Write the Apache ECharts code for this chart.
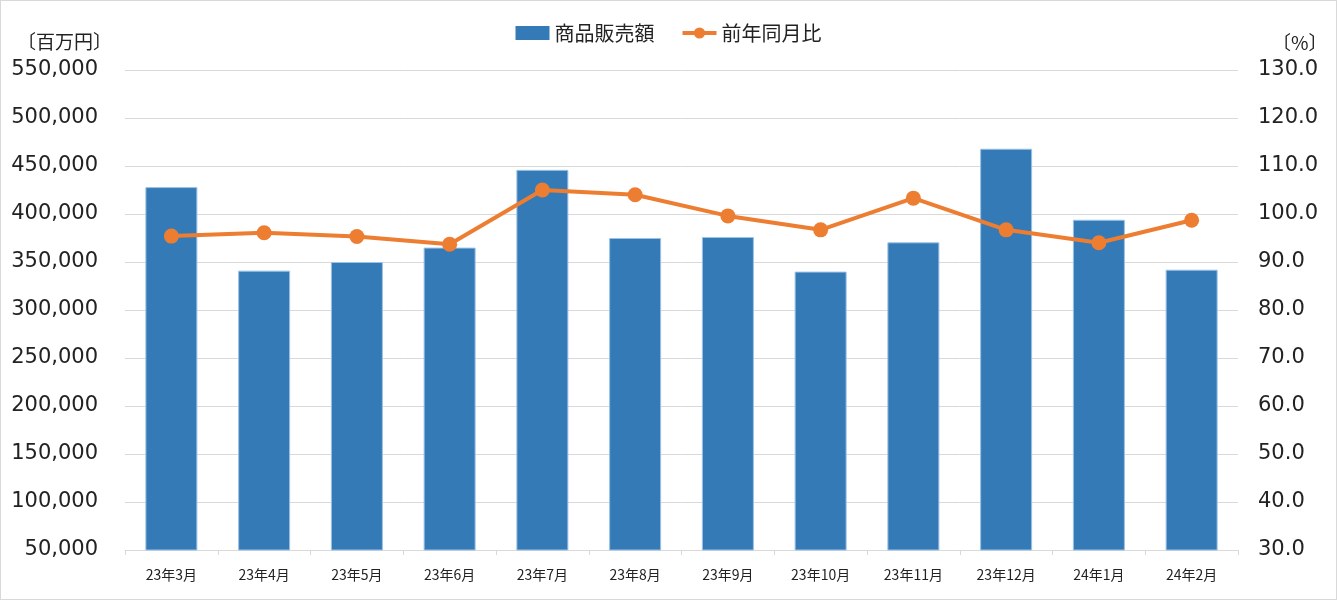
<!DOCTYPE html>
<html><head><meta charset="utf-8">
<script src="https://cdn.jsdelivr.net/npm/echarts@6/dist/echarts.min.js"></script>
<style>
html,body{margin:0;padding:0;background:#fff;}
#c{width:1337px;height:600px;box-sizing:border-box;border:1px solid #d9d9d9;}
</style></head>
<body><div id="c"></div>
<script>
const categories = ['23年3月','23年4月','23年5月','23年6月','23年7月','23年8月','23年9月','23年10月','23年11月','23年12月','24年1月','24年2月'];
const sales = [428000, 341000, 350000, 365000, 446000, 375000, 376000, 340000, 370500, 468000, 394000, 342000];
const yoy = [95.4, 96.1, 95.3, 93.7, 105.0, 104.0, 99.6, 96.7, 103.3, 96.7, 94.0, 98.7];
const leftUnit = '〔百万円〕';
const rightUnit = '〔%〕';

const FONT = '"DejaVu Sans", "Noto Sans CJK JP", sans-serif';
const CJK = '"Noto Sans CJK JP", sans-serif';
const chart = echarts.init(document.getElementById('c'), null, {renderer:'canvas'});
chart.setOption({
  animation:false,
  textStyle:{fontFamily:FONT},
  legend:{
    top:17, left:'center', itemGap:26, itemWidth:34, itemHeight:14,
    textStyle:{fontSize:20, color:'#222', fontFamily:CJK},
    data:[{name:'商品販売額', icon:'rect', itemStyle:{borderWidth:0}},
          {name:'前年同月比', lineStyle:{width:4}}]
  },
  graphic:[
    {type:'text', left:16, top:31, style:{text:leftUnit, fontSize:19, fill:'#222', fontFamily:CJK}},
    {type:'text', left:1271, top:32, style:{text:rightUnit, fontSize:19, fill:'#222', fontFamily:CJK}}
  ],
  grid:{left:124, right:98, top:69, bottom:49, containLabel:false},
  xAxis:{
    type:'category', data:categories, boundaryGap:true,
    axisLine:{lineStyle:{color:'#d9d9d9'}},
    axisTick:{show:true, length:5, lineStyle:{color:'#d9d9d9'}},
    axisLabel:{fontSize:14, color:'#222', margin:18, fontFamily:CJK}
  },
  yAxis:[
    {type:'value', min:50000, max:550000, interval:50000,
     axisLine:{show:false}, axisTick:{show:false},
     splitLine:{lineStyle:{color:'#d9d9d9', width:1}},
     axisLabel:{fontSize:21, color:'#222', margin:27, padding:[4,0,0,0], formatter:v=>v.toLocaleString('en-US')}},
    {type:'value', min:30, max:130, interval:10,
     axisLine:{show:false}, axisTick:{show:false}, splitLine:{show:false},
     axisLabel:{fontSize:21, color:'#222', margin:20, padding:[4,0,0,0], formatter:v=>v.toFixed(1)}}
  ],
  series:[
    {name:'商品販売額', type:'bar', data:sales, barWidth:52, yAxisIndex:0,
     itemStyle:{color:'#337ab7', borderColor:'#9cc2e5', borderWidth:1}},
    {name:'前年同月比', type:'line', data:yoy, yAxisIndex:1,
     lineStyle:{color:'#ed7d31', width:4}, itemStyle:{color:'#ed7d31'},
     symbol:'circle', symbolSize:15, z:5}
  ]
});
</script></body></html>
